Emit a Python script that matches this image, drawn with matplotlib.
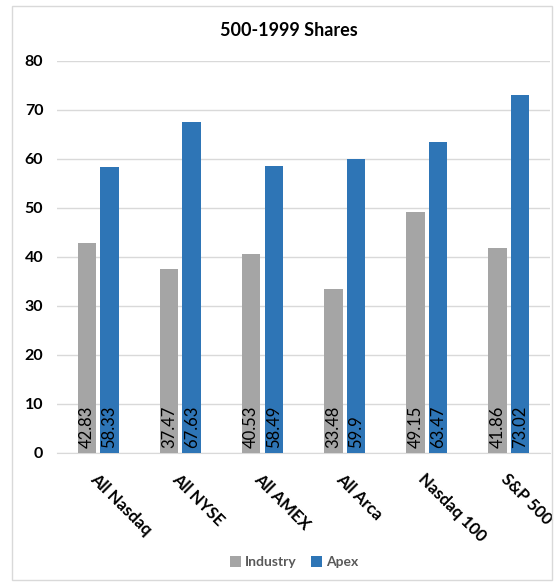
import matplotlib
matplotlib.use("Agg")
import matplotlib.pyplot as plt
import numpy as np
from matplotlib.patches import Rectangle

plt.rcParams['font.family'] = ['Lato', 'DejaVu Sans']

categories = ['All Nasdaq', 'All NYSE', 'All AMEX', 'All Arca', 'Nasdaq 100', 'S&P 500']
industry = [42.83, 37.47, 40.53, 33.48, 49.15, 41.86]
apex = [58.33, 67.63, 58.49, 59.9, 63.47, 73.02]
industry_labels = ['42.83', '37.47', '40.53', '33.48', '49.15', '41.86']
apex_labels = ['58.33', '67.63', '58.49', '59.9', '63.47', '73.02']

gray = '#A5A5A5'
blue = '#2E75B6'

fig = plt.figure(figsize=(5.55, 5.83), dpi=100)
ax = fig.add_axes([0.103, 0.2235, 0.888, 0.672])

# chart border
fig.patches.append(Rectangle((0.022, 0.005), 0.973, 0.985, transform=fig.transFigure,
                             fill=False, edgecolor='#D9D9D9', linewidth=1))

x = np.arange(len(categories))
w = 0.225
gap = 0.025
b1 = ax.bar(x - w / 2 - gap, industry, w, color=gray, label='Industry', zorder=3)
b2 = ax.bar(x + w / 2 + gap, apex, w, color=blue, label='Apex', zorder=3)

for bars, labs in ((b1, industry_labels), (b2, apex_labels)):
    for rect, lab in zip(bars, labs):
        ax.text(rect.get_x() + rect.get_width() / 2, 1.0, lab, rotation=90,
                ha='center', va='bottom', fontsize=12, color='black', zorder=4)

ax.set_xlim(-0.5, len(categories) - 0.5)
ax.set_ylim(0, 80)
ax.set_yticks(range(0, 81, 10))
ax.yaxis.grid(True, color='#D9D9D9', linewidth=1, zorder=0)
ax.set_axisbelow(True)
for s in ['top', 'right', 'left']:
    ax.spines[s].set_visible(False)
ax.spines['bottom'].set_color('#D9D9D9')
ax.tick_params(axis='both', length=0)
ax.tick_params(axis='y', pad=10)
for t in ax.get_yticklabels():
    t.set_fontweight('bold')
    t.set_fontsize(11.5)

ax.set_xticks(x)
ax.set_xticklabels(categories, rotation=-45, ha='left', va='top', rotation_mode='anchor',
                   fontsize=12, fontweight='bold')
ax.tick_params(axis='x', pad=13)

fig.text(0.52, 0.948, '500-1999 Shares', ha='center', va='center', fontsize=13, fontweight='bold')

leg = fig.legend(loc='center', bbox_to_anchor=(0.53, 0.036), ncol=2, frameon=False,
                 fontsize=10, handlelength=0.8, handleheight=0.8, columnspacing=1.0,
                 handletextpad=0.3)
for t in leg.get_texts():
    t.set_color('#595959')
    t.set_fontweight('bold')

fig.savefig('out.png', dpi=100)
